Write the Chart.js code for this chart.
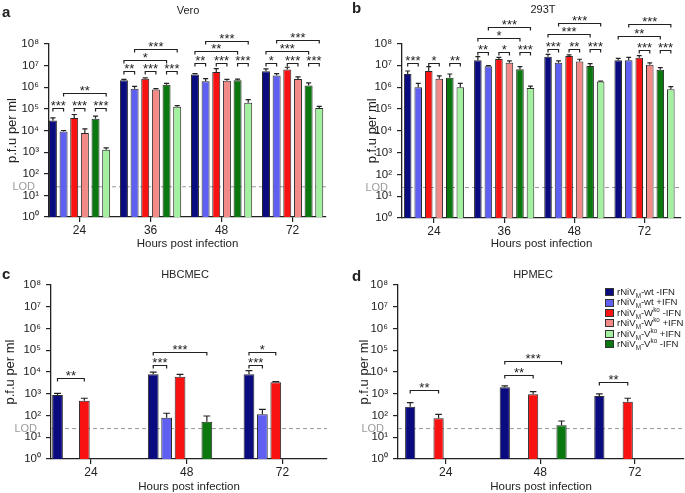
<!DOCTYPE html>
<html><head><meta charset="utf-8">
<script src="https://cdn.jsdelivr.net/npm/chart.js@4.4.1/dist/chart.umd.min.js"></script>
<style>
html,body{margin:0;padding:0;background:#fff;}
#wrap{position:relative;width:685px;height:493px;overflow:hidden;font-family:"Liberation Sans",Arial,sans-serif;background:#fff;}
#wrap canvas{position:absolute;}
.legend{position:absolute;left:605px;top:287px;font-size:9.6px;line-height:10.4px;color:#222;}
.legend div{display:flex;align-items:center;white-space:nowrap;height:10.4px;}
.legend span.b{display:inline-block;width:9px;height:8px;border:1px solid #333;margin-right:3px;box-sizing:border-box;}
.legend sub,.legend sup{font-size:6.3px;line-height:0;}
</style></head>
<body>
<div id="wrap">
  <canvas id="cA" width="342" height="250" style="left:0;top:0"></canvas>
  <canvas id="cB" width="343" height="250" style="left:342px;top:0"></canvas>
  <canvas id="cC" width="342" height="243" style="left:0;top:250px"></canvas>
  <canvas id="cD" width="343" height="243" style="left:342px;top:250px"></canvas>
  <div class="legend" id="legend"></div>
</div>
<script>
// ---------- data ----------
// series order (bar order within each group)
const SERIES_LABELS = ['rNiVM-wt -IFN','rNiVM-wt +IFN','rNiVM-Wko -IFN','rNiVM-Wko +IFN','rNiVM-Vko -IFN','rNiVM-Vko +IFN'];
const LEGEND_HTML = ['rNiV<sub>M</sub>-wt -IFN','rNiV<sub>M</sub>-wt +IFN','rNiV<sub>M</sub>-W<sup>ko</sup> -IFN','rNiV<sub>M</sub>-W<sup>ko</sup> +IFN','rNiV<sub>M</sub>-V<sup>ko</sup> -IFN','rNiV<sub>M</sub>-V<sup>ko</sup> +IFN'];
const LEGEND_ORDER = [0,1,2,3,5,4];
const Y_TICKS = [1,1e1,1e2,1e3,1e4,1e5,1e6,1e7,1e8];
const Y_TICK_LABELS = ['10\u2070','10\u00B9','10\u00B2','10\u00B3','10\u2074','10\u2075','10\u2076','10\u2077','10\u2078'];
const LOD = 25;

// Vero (a)
const veroHours = ['24','36','48','72'];
const veroWtMinus  = [2.9e4, 2.1e6, 3.9e6, 5.5e6];
const veroWtPlus   = [9.1e3, 8.5e5, 1.9e6, 3.5e6];
const veroWkoMinus = [3.8e4, 2.5e6, 5.1e6, 6.6e6];
const veroWkoPlus  = [7.7e3, 7.8e5, 2.0e6, 2.4e6];
const veroVkoMinus = [3.5e4, 1.3e6, 2.1e6, 1.2e6];
const veroVkoPlus  = [1.3e3, 1.24e5, 1.9e5, 1.1e5];
const veroWtMinusErr  = [3.8e4, 2.3e6, 4.3e6, 7.1e6];
const veroWtPlusErr   = [1.0e4, 1.1e6, 2.5e6, 4.3e6];
const veroWkoMinusErr = [5.5e4, 2.7e6, 7.3e6, 8.4e6];
const veroWkoPlusErr  = [1.18e4, 8.7e5, 2.3e6, 3.0e6];
const veroVkoMinusErr = [4.6e4, 1.5e6, 2.4e6, 1.6e6];
const veroVkoPlusErr  = [1.56e3, 1.4e5, 2.7e5, 1.3e5];
// [group, bar A, bar B, bracket level, label]
const veroSig = [
  [0,0,1,1.12e5,'***'],[0,2,3,1.12e5,'***'],[0,4,5,1.12e5,'***'],[0,1,5,5.5e5,'**'],
  [1,0,1,5.9e6,'**'],[1,2,3,5.9e6,'***'],[1,4,5,5.9e6,'***'],[1,0,4,1.9e7,'*'],[1,1,5,6.0e7,'***'],
  [2,0,1,1.26e7,'**'],[2,2,3,1.26e7,'***'],[2,4,5,1.26e7,'***'],[2,0,4,4.7e7,'**'],[2,1,5,1.35e8,'***'],
  [3,0,1,1.26e7,'*'],[3,2,3,1.26e7,'***'],[3,4,5,1.26e7,'***'],[3,0,4,4.7e7,'***'],[3,1,5,1.5e8,'***']
];

// 293T (b)
const t293Hours = ['24','36','48','72'];
const t293WtMinus  = [4.0e6, 1.7e7, 2.5e7, 1.7e7];
const t293WtPlus   = [1.0e6, 9.0e6, 1.3e7, 1.7e7];
const t293WkoMinus = [5.5e6, 1.95e7, 2.7e7, 2.2e7];
const t293WkoPlus  = [2.4e6, 1.3e7, 1.5e7, 1.05e7];
const t293VkoMinus = [2.7e6, 6.6e6, 9.3e6, 6.2e6];
const t293VkoPlus  = [1.0e6, 9.0e5, 1.8e6, 8.0e5];
const t293WtMinusErr  = [5.5e6, 2.5e7, 3.2e7, 2.1e7];
const t293WtPlusErr   = [1.5e6, 9.6e6, 1.6e7, 2.3e7];
const t293WkoMinusErr = [8.7e6, 2.3e7, 3.0e7, 2.8e7];
const t293WkoPlusErr  = [3.3e6, 1.6e7, 1.9e7, 1.3e7];
const t293VkoMinusErr = [4.0e6, 8.7e6, 1.2e7, 7.8e6];
const t293VkoPlusErr  = [1.5e6, 1.1e6, 1.9e6, 1.05e6];
const t293Sig = [
  [0,0,1,1.32e7,'***'],[0,2,3,1.32e7,'*'],[0,4,5,1.32e7,'**'],
  [1,0,1,4.2e7,'**'],[1,2,3,4.2e7,'*'],[1,4,5,4.2e7,'***'],[1,0,4,1.86e8,'*'],[1,1,5,5.5e8,'***'],
  [2,0,1,5.4e7,'***'],[2,2,3,5.4e7,'**'],[2,4,5,5.4e7,'***'],[2,0,4,2.6e8,'***'],[2,1,5,8.3e8,'***'],
  [3,2,3,5.0e7,'***'],[3,4,5,5.0e7,'***'],[3,0,4,2.2e8,'**'],[3,1,5,7.8e8,'***']
];

// HBCMEC (c)
const hbcHours = ['24','48','72'];
const hbcWtMinus  = [8.8e2, 7.8e3, 7.8e3];
const hbcWtPlus   = [null, 79, 113];
const hbcWkoMinus = [4.8e2, 6.0e3, 3.4e3];
const hbcWkoPlus  = [null, null, null];
const hbcVkoMinus = [null, 52, null];
const hbcVkoPlus  = [null, null, null];
const hbcWtMinusErr  = [1.05e3, 9.8e3, 1.15e4];
const hbcWtPlusErr   = [null, 127, 192];
const hbcWkoMinusErr = [6.2e2, 7.8e3, 3.6e3];
const hbcWkoPlusErr  = [null, null, null];
const hbcVkoMinusErr = [null, 95, null];
const hbcVkoPlusErr  = [null, null, null];
const hbcSig = [
  [0,0,2,5.1e3,'**'],
  [1,0,1,2.2e4,'***'],[1,0,4,8.5e4,'***'],
  [2,0,1,2.2e4,'***'],[2,0,2,8.5e4,'*']
];

// HPMEC (d)
const hpmHours = ['24','48','72'];
const hpmWtMinus  = [2.5e2, 2.0e3, 7.9e2];
const hpmWtPlus   = [null, null, null];
const hpmWkoMinus = [74, 9.5e2, 4.3e2];
const hpmWkoPlus  = [null, null, null];
const hpmVkoMinus = [null, 36, null];
const hpmVkoPlus  = [null, null, null];
const hpmWtMinusErr  = [3.9e2, 2.3e3, 9.8e2];
const hpmWtPlusErr   = [null, null, null];
const hpmWkoMinusErr = [113, 1.24e3, 6.2e2];
const hpmWkoPlusErr  = [null, null, null];
const hpmVkoMinusErr = [null, 56, null];
const hpmVkoPlusErr  = [null, null, null];
const hpmSig = [
  [0,0,2,1.5e3,'**'],
  [1,0,2,7.2e3,'**'],[1,0,4,3.2e4,'***'],
  [2,0,2,3.5e3,'**']
];

// ---------- styles ----------
const BAR_COLORS = ['#0b0b80','#5f5ff2','#f81212','#f28a88','#0a780f','#a3f0a1'];
const FONT = '"Liberation Sans", Arial, sans-serif';
const INK = '#222';

function makePlugin(p) {
  return {
    id: 'annot_' + p.letter,
    beforeDatasetsDraw(chart) {
      const {ctx, chartArea: a, scales: {y}} = chart;
      const py = y.getPixelForValue(LOD);
      ctx.save();
      ctx.strokeStyle = '#9a9a9a'; ctx.lineWidth = 1; ctx.setLineDash([4, 3]);
      ctx.beginPath(); ctx.moveTo(a.left, py); ctx.lineTo(a.right, py); ctx.stroke();
      ctx.setLineDash([]);
      ctx.fillStyle = '#9a9a9a'; ctx.font = '11px ' + FONT;
      ctx.textAlign = 'right'; ctx.textBaseline = 'middle';
      ctx.fillText('LOD', a.left - 14, py);
      ctx.restore();
    },
    afterDatasetsDraw(chart) {
      const {ctx, scales: {y}} = chart;
      ctx.save();
      ctx.strokeStyle = INK; ctx.lineWidth = 1.2;
      chart.data.datasets.forEach((ds, k) => {
        const meta = chart.getDatasetMeta(k);
        meta.data.forEach((bar, i) => {
          const v = ds.data[i].y, e = ds.errTop[i];
          if (v == null || e == null) return;
          const ey = y.getPixelForValue(e);
          const hw = bar.width * 0.32;
          ctx.beginPath();
          ctx.moveTo(bar.x, bar.y); ctx.lineTo(bar.x, ey);
          ctx.moveTo(bar.x - hw, ey); ctx.lineTo(bar.x + hw, ey);
          ctx.stroke();
        });
      });
      // significance brackets
      ctx.fillStyle = INK; ctx.font = '13px ' + FONT;
      ctx.textAlign = 'center'; ctx.textBaseline = 'alphabetic';
      p.sig.forEach(([g, s1, s2, lvl, txt]) => {
        const b1 = chart.getDatasetMeta(s1).data[g];
        const b2 = chart.getDatasetMeta(s2).data[g];
        const ly = Math.round(y.getPixelForValue(lvl)) + 0.5;
        ctx.beginPath();
        ctx.moveTo(b1.x, ly + 3); ctx.lineTo(b1.x, ly); ctx.lineTo(b2.x, ly); ctx.lineTo(b2.x, ly + 3);
        ctx.stroke();
        ctx.fillText(txt, (b1.x + b2.x) / 2, ly + 1.5);
      });
      // title and panel letter
      ctx.font = '11px ' + FONT; ctx.textBaseline = 'middle';
      ctx.fillText(p.title, p.titleX, p.titleY);
      ctx.font = 'bold 15px ' + FONT; ctx.textAlign = 'left';
      ctx.fillText(p.letter, p.letterX, p.letterY);
      ctx.restore();
    }
  };
}

function makePanel(id, p) {
  const datasets = p.series.map((vals, k) => ({
    label: SERIES_LABELS[k],
    data: vals.map((v, i) => ({x: i, y: v})),
    errTop: p.errs[k],
    backgroundColor: BAR_COLORS[k],
    borderColor: '#2a2a2a',
    borderWidth: 1,
    categoryPercentage: p.catPct,
    barPercentage: p.barPct
  }));
  const g = p.geo;
  return new Chart(document.getElementById(id), {
    type: 'bar',
    data: {datasets},
    options: {
      responsive: false, animation: false, devicePixelRatio: 1,
      layout: {padding: {left: 0, top: g.top, right: g.right, bottom: 0}},
      plugins: {legend: {display: false}, tooltip: {enabled: false}},
      scales: {
        x: {
          type: 'linear', min: p.xMin, max: p.xMax, offset: false,
          afterBuildTicks: s => { s.ticks = p.cats.map((c, i) => ({value: i})); },
          afterFit: s => { s.height = g.xH; },
          ticks: {callback: (v, i) => p.cats[i], color: INK, font: {family: FONT, size: 12}, padding: 1, maxRotation: 0, autoSkip: false},
          grid: {display: true, offset: false, drawOnChartArea: false, drawTicks: true, tickLength: 5, color: INK, lineWidth: 1.2},
          border: {display: true, color: INK, width: 1.3},
          title: {display: true, text: 'Hours post infection', color: INK, font: {family: FONT, size: 11.5, lineHeight: 1}, padding: {top: 0, bottom: 0.5}}
        },
        y: {
          type: 'logarithmic', min: 1, max: 1e8,
          afterBuildTicks: s => { s.ticks = Y_TICKS.map(v => ({value: v})); },
          afterFit: s => { s.width = g.yW; },
          ticks: {callback: (v, i) => Y_TICK_LABELS[i], color: INK, font: {family: FONT, size: 11.5}, padding: 5},
          grid: {display: true, drawOnChartArea: false, drawTicks: true, tickLength: 5, color: INK, lineWidth: 1.2},
          border: {display: true, color: INK, width: 1.3},
          title: {display: true, text: 'p.f.u per ml', color: INK, font: {family: FONT, size: 13, lineHeight: 1}, padding: {top: g.yTitleX - 6.5, bottom: 0}}
        }
      }
    },
    plugins: [makePlugin(p)]
  });
}

makePanel('cA', {
  cats: veroHours, letter: 'a', title: 'Vero', titleX: 188, titleY: 11, letterX: 2, letterY: 13,
  series: [veroWtMinus, veroWtPlus, veroWkoMinus, veroWkoPlus, veroVkoMinus, veroVkoPlus],
  errs: [veroWtMinusErr, veroWtPlusErr, veroWkoMinusErr, veroWkoPlusErr, veroVkoMinusErr, veroVkoPlusErr],
  sig: veroSig, xMin: -0.43, xMax: 3.47, catPct: 0.9, barPct: 0.75,
  geo: {top: 44, right: 16, xH: 33, yW: 49, yTitleX: 12}
});
makePanel('cB', {
  cats: t293Hours, letter: 'b', title: '293T', titleX: 201, titleY: 10, letterX: 10, letterY: 9,
  series: [t293WtMinus, t293WtPlus, t293WkoMinus, t293WkoPlus, t293VkoMinus, t293VkoPlus],
  errs: [t293WtMinusErr, t293WtPlusErr, t293WkoMinusErr, t293WkoPlusErr, t293VkoMinusErr, t293VkoPlusErr],
  sig: t293Sig, xMin: -0.456, xMax: 3.52, catPct: 0.9, barPct: 0.72,
  geo: {top: 43.5, right: 4, xH: 32, yW: 60, yTitleX: 30}
});
makePanel('cC', {
  cats: hbcHours, letter: 'c', title: 'HBCMEC', titleX: 185, titleY: 25, letterX: 2, letterY: 25,
  series: [hbcWtMinus, hbcWtPlus, hbcWkoMinus, hbcWkoPlus, hbcVkoMinus, hbcVkoPlus],
  errs: [hbcWtMinusErr, hbcWtPlusErr, hbcWkoMinusErr, hbcWkoPlusErr, hbcVkoMinusErr, hbcVkoPlusErr],
  sig: hbcSig, xMin: -0.418, xMax: 2.465, catPct: 0.84, barPct: 0.8,
  geo: {top: 35, right: 15, xH: 34, yW: 51, yTitleX: 10}
});
makePanel('cD', {
  cats: hpmHours, letter: 'd', title: 'HPMEC', titleX: 191, titleY: 25, letterX: 10, letterY: 27,
  series: [hpmWtMinus, hpmWtPlus, hpmWkoMinus, hpmWkoPlus, hpmVkoMinus, hpmVkoPlus],
  errs: [hpmWtMinusErr, hpmWtPlusErr, hpmWkoMinusErr, hpmWkoPlusErr, hpmVkoMinusErr, hpmVkoPlusErr],
  sig: hpmSig, xMin: -0.504, xMax: 2.52, catPct: 0.9, barPct: 0.72,
  geo: {top: 35, right: 1, xH: 34, yW: 56, yTitleX: 22}
});

// legend (panel d)
const leg = document.getElementById('legend');
LEGEND_ORDER.forEach(k => {
  const row = document.createElement('div');
  row.innerHTML = '<span class="b" style="background:' + BAR_COLORS[k] + '"></span><span>' + LEGEND_HTML[k] + '</span>';
  leg.appendChild(row);
});
</script>
</body></html>
